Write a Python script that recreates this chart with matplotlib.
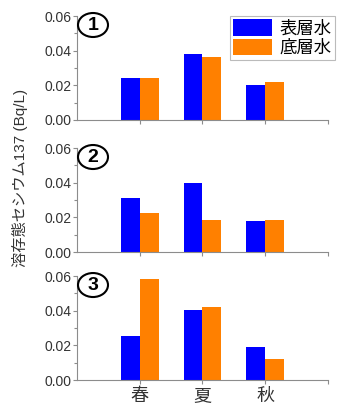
import numpy as np
import matplotlib.pyplot as plt
from matplotlib.patches import Ellipse
from matplotlib.ticker import MultipleLocator

plt.rcParams['font.family'] = ['Liberation Sans', 'Noto Sans CJK JP']

seasons = ['春', '夏', '秋']
series_names = ['表層水', '底層水']
panel_labels = ['1', '2', '3']

# Dissolved Cs-137 (Bq/L) per panel: [surface, bottom]
surface = [
    [0.0240, 0.0380, 0.0204],
    [0.0309, 0.0400, 0.0181],
    [0.0256, 0.0402, 0.0189],
]
bottom = [
    [0.0244, 0.0365, 0.0220],
    [0.0227, 0.0185, 0.0185],
    [0.0584, 0.0421, 0.0123],
]

blue = '#0000ff'
orange = '#ff8000'
grey = '#8c8c8c'

fig = plt.figure(figsize=(3.46, 4.2), dpi=100)
bottoms = [0.7143, 0.400, 0.0952]
x = np.arange(1, len(seasons) + 1)
w = 0.3

for i in range(3):
    ax = fig.add_axes([0.2225, bottoms[i], 0.7254, 0.2476])
    ax.bar(x - w / 2, surface[i], w, color=blue, label=series_names[0])
    ax.bar(x + w / 2, bottom[i], w, color=orange, label=series_names[1])
    ax.set_xlim(0, 4)
    ax.set_ylim(0, 0.06)
    ax.yaxis.set_major_locator(MultipleLocator(0.02))
    ax.yaxis.set_minor_locator(MultipleLocator(0.01))
    ax.yaxis.set_major_formatter(plt.FormatStrFormatter('%.2f'))
    ax.set_xticks(list(x) + [4])
    if i == 2:
        ax.set_xticklabels(seasons + [''], fontsize=13, color='#333333')
    else:
        ax.set_xticklabels([])
    for s in ['top', 'right']:
        ax.spines[s].set_visible(False)
    for s in ['left', 'bottom']:
        ax.spines[s].set_color(grey)
        ax.spines[s].set_linewidth(0.8)
    ax.tick_params(axis='both', which='both', color=grey, length=3, width=0.8)
    ax.tick_params(axis='x', length=3, pad=3)
    ax.tick_params(axis='y', which='minor', length=2)
    ax.tick_params(axis='y', labelsize=10, labelcolor='#333333', pad=1)

    # circled panel number
    top_px = 420 * (1 - bottoms[i] - 0.2476)
    cx, cy = 93 / 346, 1 - (top_px + 9) / 420
    fig.add_artist(Ellipse((cx, cy), 30 / 346, 24 / 420, transform=fig.transFigure,
                           facecolor='white', edgecolor='black', linewidth=1.5))
    fig.text(cx, cy, panel_labels[i], fontsize=14, fontweight='bold',
             ha='center', va='center')

    if i == 0:
        leg = ax.legend(loc='upper right', bbox_to_anchor=(1.028, 1.0), fontsize=12.5,
                        frameon=True, fancybox=False, edgecolor='#aaaaaa',
                        handlelength=2.25, handleheight=1.1, handletextpad=0.4,
                        borderpad=0.2, labelspacing=0.12, borderaxespad=0)
        leg.get_frame().set_linewidth(0.8)

fig.text(0.058, 0.576, '溶存態セシウム137 (Bq/L)', rotation=90, ha='center', va='center',
         fontsize=11, color='#333333')

fig.savefig('out.png', dpi=100)
